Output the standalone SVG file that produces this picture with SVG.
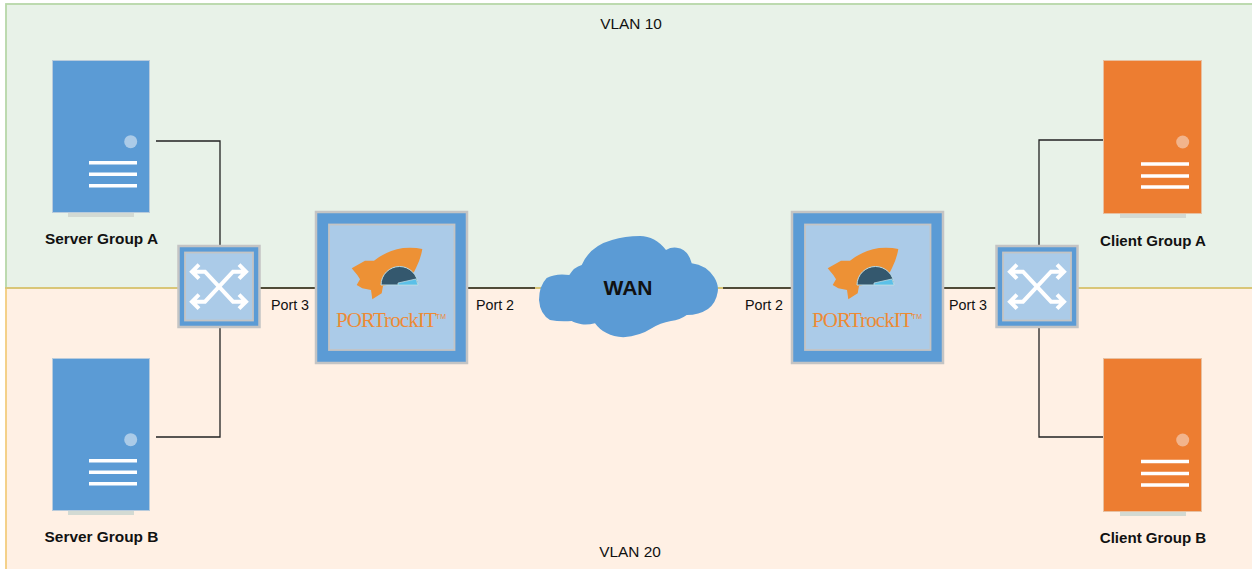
<svg xmlns="http://www.w3.org/2000/svg" width="1252" height="569" viewBox="0 0 1252 569">
<style>
.lbl{font-family:"Liberation Sans",Arial,sans-serif;font-size:15.400px;fill:#111;text-anchor:middle}
.b{font-weight:700}
.cg{font-size:15.100px}
.port{font-size:14.300px}
.wire{fill:none;stroke:#222;stroke-width:1.300}
.sv{fill:#5b9bd5;stroke:#b8cbdc;stroke-width:1}
.cl{fill:#ed7d31;stroke:#e8c0a0;stroke-width:1}
.base{fill:#d3dad3}
.bar{stroke:#fff;stroke-width:3.500;fill:none}
.outer{fill:#5b9bd5;stroke:#c4c4c4;stroke-width:2.500}
.inner{fill:#abcbe8;stroke:#c4c4c4;stroke-width:1.800}
.x{fill:none;stroke:#fff;stroke-width:4}
.pt{font-family:"Liberation Serif","Times New Roman",serif;font-size:21px;fill:#ed8a35;text-anchor:middle;letter-spacing:-0.900px}
.tm{font-family:"Liberation Sans",Arial,sans-serif;font-size:7px;letter-spacing:0}
</style>
<g id="zones">
<rect x="6" y="4" width="1250" height="284" fill="#e8f2e8" stroke="#b7d7a8" stroke-width="1.800"/>
<rect x="6" y="288" width="1250" height="285" fill="#fff0e4" stroke="#f3cd7e" stroke-width="1.800"/>
<path d="M5 288H1252" fill="none" stroke="#d9c677" stroke-width="2"/>
<text class="lbl" x="631" y="29">VLAN 10</text>
<text class="lbl" x="630" y="557">VLAN 20</text>
</g>
<g id="connectors">
<path class="wire" d="M156 141H220V245"/>
<path class="wire" d="M156 437H220V328"/>
<path class="wire" d="M260 288H315"/>
<path class="wire" d="M468 288H535"/>
<path class="wire" d="M723 288H791"/>
<path class="wire" d="M943 288H996"/>
<path class="wire" d="M1103 140H1039V245"/>
<path class="wire" d="M1103 437H1039V328"/>
</g>
<g id="server-a">
<rect x="68" y="213" width="66" height="4" class="base"/>
<rect x="52.500" y="60.500" width="97" height="152" class="sv"/>
<circle cx="130.700" cy="141.700" r="6.500" fill="#abcbe8"/>
<path class="bar" d="M89 162.700H137M89 174.300H137M89 185.700H137"/>
<text class="lbl b" x="101.500" y="244">Server Group A</text>
</g>
<g id="server-b">
<rect x="68" y="511" width="66" height="4" class="base"/>
<rect x="52.500" y="358.500" width="97" height="152" class="sv"/>
<circle cx="130.700" cy="439.700" r="6.500" fill="#abcbe8"/>
<path class="bar" d="M89 460.700H137M89 472.300H137M89 483.700H137"/>
<text class="lbl b" x="101.500" y="542">Server Group B</text>
</g>
<g id="client-a">
<rect x="1120" y="214" width="66" height="4" class="base"/>
<rect x="1103.500" y="60.500" width="98" height="153" class="cl"/>
<circle cx="1182.700" cy="142" r="6.500" fill="#f2b48c"/>
<path class="bar" d="M1141 164H1189M1141 176H1189M1141 187H1189"/>
<text class="lbl b cg" x="1153" y="245.500">Client Group A</text>
</g>
<g id="client-b">
<rect x="1120" y="512" width="66" height="4" class="base"/>
<rect x="1103.500" y="358.500" width="98" height="153" class="cl"/>
<circle cx="1182.700" cy="440" r="6.500" fill="#f2b48c"/>
<path class="bar" d="M1141 461.500H1189M1141 473.500H1189M1141 485H1189"/>
<text class="lbl b cg" x="1153" y="543">Client Group B</text>
</g>
<g id="switch-left">
<rect class="outer" x="178.500" y="246" width="81" height="81"/>
<rect class="inner" x="185" y="252.500" width="68" height="68"/>
<path class="x" d="M192 271.700H205L233 301.700H246M192 301.700H205L233 271.700H246M199 264.700L192 271.700L199 278.700M239 264.700L246 271.700L239 278.700M199 294.700L192 301.700L199 308.700M239 294.700L246 301.700L239 308.700"/>
</g>
<g id="switch-right" transform="translate(818 0)">
<rect class="outer" x="178.500" y="246" width="81" height="81"/>
<rect class="inner" x="185" y="252.500" width="68" height="68"/>
<path class="x" d="M192 271.700H205L233 301.700H246M192 301.700H205L233 271.700H246M199 264.700L192 271.700L199 278.700M239 264.700L246 271.700L239 278.700M199 294.700L192 301.700L199 308.700M239 294.700L246 301.700L239 308.700"/>
</g>
<g id="portrockit-left">
<rect class="outer" x="316" y="212" width="151" height="151"/>
<rect class="inner" x="329" y="224.500" width="125.500" height="125.500"/>
<path fill="#ed9135" d="M351.700 268.300L365 260.700L374 260.700Q386 251 403 248Q414 247 422.300 249Q421 258 416 268L410 280L387 285L383 286L381.700 293.300L372.300 299.300L371 290L362.300 288.300L356.700 285L360 279.300L357.300 275Z"/>
<path fill="#34586e" stroke="#b9dbe6" stroke-width="1" d="M381 285A18.500 18.500 0 0 1 418 285Z"/>
<path fill="#5bc0e8" stroke="#b9dbe6" stroke-width="0.800" d="M398 283L416 279L418 285H398Z"/>
<text class="pt" x="391" y="326.500">PORTrockIT<tspan class="tm" dy="-8">TM</tspan></text>
<text class="lbl port" x="290" y="310">Port 3</text>
<text class="lbl port" x="495" y="310">Port 2</text>
</g>
<g id="portrockit-right">
<rect class="outer" x="792" y="212" width="151" height="151"/>
<rect class="inner" x="805" y="224.500" width="125.500" height="125.500"/>
<g transform="translate(476 0)">
<path fill="#ed9135" d="M351.700 268.300L365 260.700L374 260.700Q386 251 403 248Q414 247 422.300 249Q421 258 416 268L410 280L387 285L383 286L381.700 293.300L372.300 299.300L371 290L362.300 288.300L356.700 285L360 279.300L357.300 275Z"/>
<path fill="#34586e" stroke="#b9dbe6" stroke-width="1" d="M381 285A18.500 18.500 0 0 1 418 285Z"/>
<path fill="#5bc0e8" stroke="#b9dbe6" stroke-width="0.800" d="M398 283L416 279L418 285H398Z"/>
</g>
<text class="pt" x="867" y="326.500">PORTrockIT<tspan class="tm" dy="-8">TM</tspan></text>
<text class="lbl port" x="764" y="310">Port 2</text>
<text class="lbl port" x="968" y="310">Port 3</text>
</g>
<g id="wan">
<path fill="#5b9bd5" d="M569.300 275Q574 267 581.700 265Q590 246 612 240Q625 236 640 236Q655 236 666 250Q671 247 676.700 247.700Q688 249 691.700 263.300Q706 265 714 277Q719 285 717.700 292Q716 303 708 309Q699 315 686.700 315Q680 320 671 321Q660 323 651.700 328.300Q640 336 623.300 337.300Q604 336 595 323.300Q588 325 581.700 324.300Q575 323 571.700 321Q560 322 550 320Q540 314 539 300Q539 286 546.700 278Q556 273 569.300 275Z"/>
<text class="lbl b" x="628" y="294.500" style="font-size:21px">WAN</text>
</g>
</svg>
